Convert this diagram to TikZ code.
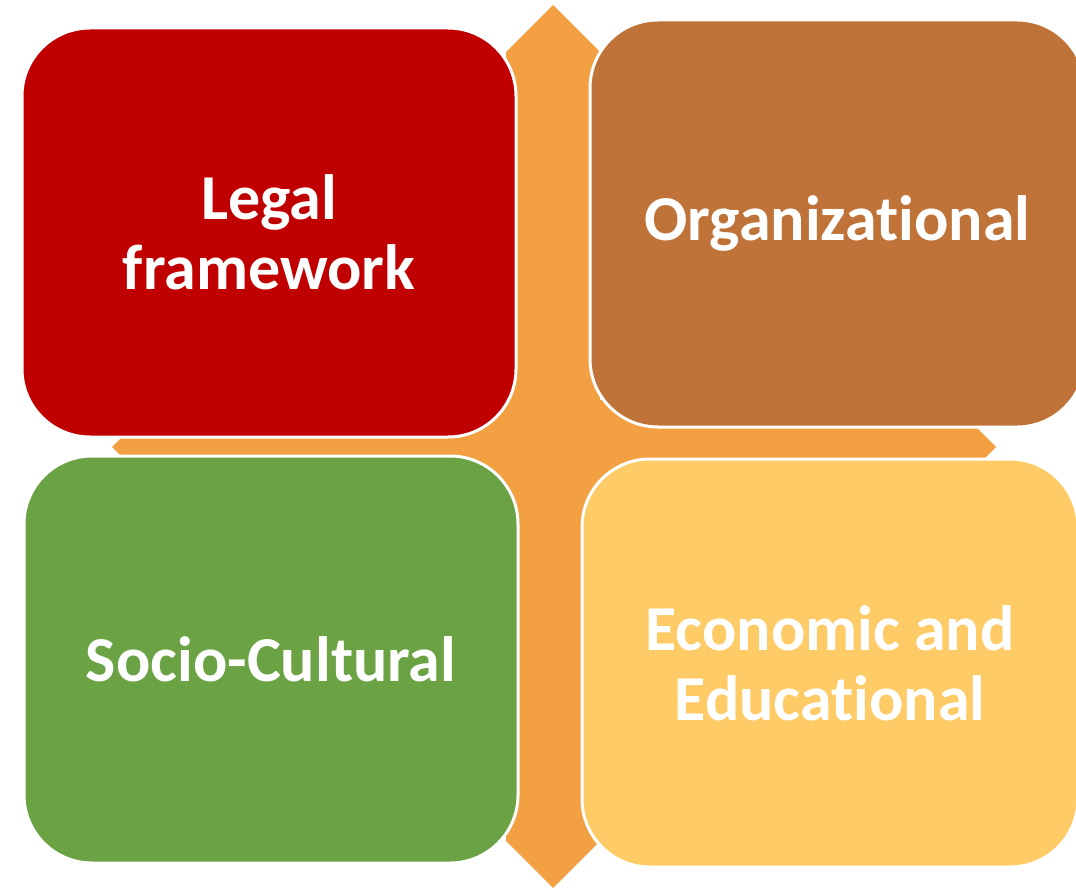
\documentclass[tikz,border=0pt]{standalone}
\usepackage{fontspec}
\setmainfont{Carlito}[RawFeature={-liga}]
\definecolor{cred}{HTML}{C00000}
\definecolor{cbrown}{HTML}{BF7339}
\definecolor{cgreen}{HTML}{6AA244}
\definecolor{cyellow}{HTML}{FECB66}
\definecolor{corange}{HTML}{F3A042}
\begin{document}
\begin{tikzpicture}[x=1pt,y=-1pt,
  tile/.style={draw=white,line width=3pt,rounded corners=68pt,inner sep=0pt,
    text=white,align=center,font=\bfseries\fontsize{64}{70}\selectfont},
  arrowshape/.style={fill=corange,draw=none}]
\useasboundingbox (0,0) rectangle (1076,890);
\clip (0,0) rectangle (1076,890);
% background cross arrows
\coordinate (vt) at (553,5);
\coordinate (vb) at (553,888);
\coordinate (hl) at (112,447);
\coordinate (hr) at (996,447);
\fill[arrowshape] (vt) -- (600,52) -- (600,841) -- (vb) -- (506,841) -- (506,52) -- cycle;
\fill[arrowshape] (hl) -- (159,400) -- (949,400) -- (hr) -- (949,494) -- (159,494) -- cycle;
% tiles
\node[tile,fill=cred,minimum width=494pt,minimum height=409pt] (legal) at (269,232.5) {Legal\\framework};
\node[tile,fill=cbrown,minimum width=495pt,minimum height=407pt] (org) at (837.5,223.5) {Organizational};
\node[tile,fill=cgreen,minimum width=494pt,minimum height=407pt] (soc) at (271,659.5) {Socio-Cultural};
\node[tile,fill=cyellow,minimum width=496pt,minimum height=408pt] (eco) at (830,663) {Economic and\\Educational};
\end{tikzpicture}
\end{document}
